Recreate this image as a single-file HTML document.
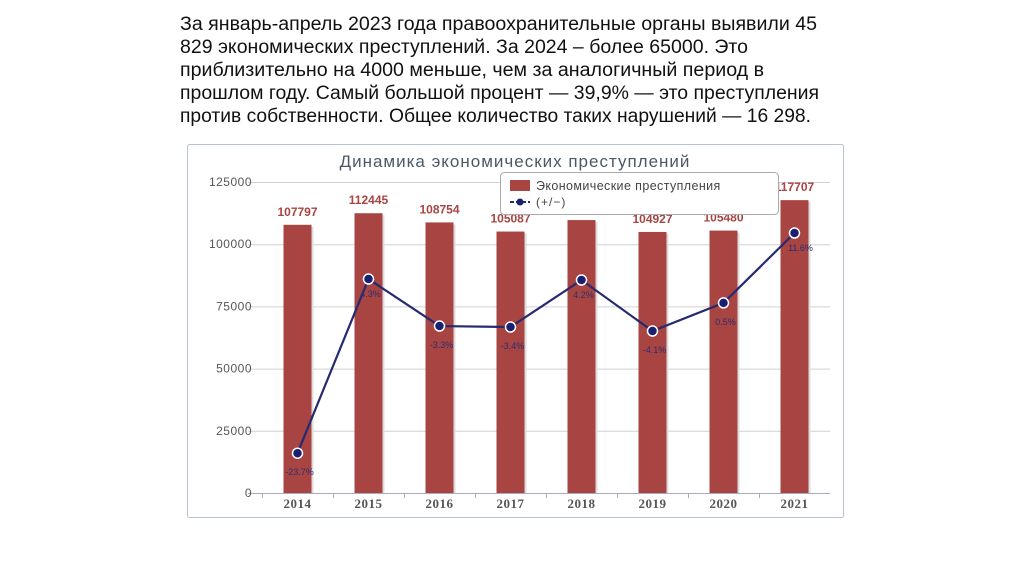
<!DOCTYPE html>
<html><head><meta charset="utf-8"><style>
body{margin:0;background:#fff;width:1024px;height:574px;overflow:hidden;font-family:"Liberation Sans","DejaVu Sans",sans-serif}
</style></head><body>
<svg id="svg" width="1024" height="574" style="position:absolute;left:0;top:0">
<g font-size="19" fill="#111" lengthAdjust="spacingAndGlyphs">
<text x="180" y="30" textLength="637" lengthAdjust="spacingAndGlyphs">За январь-апрель 2023 года правоохранительные органы выявили 45</text>
<text x="180" y="53" textLength="568" lengthAdjust="spacingAndGlyphs">829 экономических преступлений. За 2024 – более 65000. Это</text>
<text x="180" y="76" textLength="584" lengthAdjust="spacingAndGlyphs">приблизительно на 4000 меньше, чем за аналогичный период в</text>
<text x="180" y="99" textLength="639" lengthAdjust="spacingAndGlyphs">прошлом году. Самый большой процент — 39,9% — это преступления</text>
<text x="180" y="122" textLength="631" lengthAdjust="spacingAndGlyphs">против собственности. Общее количество таких нарушений — 16 298.</text>
</g>
<rect x="187.5" y="144.5" width="656" height="373" fill="#fff" stroke="#b8c4d4" rx="2"/>
<text x="515" y="167" text-anchor="middle" font-size="17" fill="#4c5866" letter-spacing="1">Динамика экономических преступлений</text>
<g id="plot"></g>
</svg>
<script>
const categories=["2014","2015","2016","2017","2018","2019","2020","2021"];
const crimes=[107797,112445,108754,105087,109700,104927,105480,117707];
const crimeLabels=["107797","112445","108754","105087","","104927","105480","117707"];
const changeVals=[16000,86000,67100,66700,85600,65100,76400,104500];
const changeLabels=["-23.7%","4.3%","-3.3%","-3.4%","4.2%","-4.1%","0.5%","11.6%"];
const yTicks=[0,25000,50000,75000,100000,125000];
const NS="http://www.w3.org/2000/svg";
const g=document.getElementById('plot');
const x0=262,x1=830,y0=493,y1=182,ymax=125000;
const bw=(x1-x0)/categories.length;
const X=i=>x0+bw*(i+0.5);
const Y=v=>y0-(v/ymax)*(y0-y1);
function mk(t,a,p){const e=document.createElementNS(NS,t);for(const k in a)e.setAttribute(k,a[k]);(p||g).appendChild(e);return e;}
yTicks.forEach(v=>{
 const l=mk('line',{x1:248,x2:830,y1:Y(v)+.5,y2:Y(v)+.5,stroke:v?'#d0d0d0':'#aab',"stroke-width":1});
 
 
 const t=mk('text',{x:252,y:Y(v)+4,"text-anchor":"end","font-size":12,fill:"#555","letter-spacing":"0.5"});t.textContent=v;
 
 
});
categories.forEach((c,i)=>{
 const tk=mk('line',{x1:x0+bw*i+.5,x2:x0+bw*i+.5,y1:y0,y2:y0+5,stroke:'#aab'});
 
 
 const sh=mk('rect',{x:X(i)-12,y:Y(crimes[i])+2,width:28,height:y0-Y(crimes[i])-2,fill:'#ddd'});
 
 
 const b=mk('rect',{x:X(i)-14,y:Y(crimes[i]),width:28,height:y0-Y(crimes[i]),fill:'#a84442'});
 
 
 if(crimeLabels[i]){const t=mk('text',{x:X(i),y:Y(crimes[i])-9,"text-anchor":"middle","font-size":12,"font-weight":"bold",fill:"#a84442"});t.textContent=crimeLabels[i];
 
 }
 const xl=mk('text',{x:X(i),y:y0+15,"text-anchor":"middle","font-size":13,"font-weight":"bold",fill:"#555","font-family":"Liberation Serif, serif","letter-spacing":"0.5"});xl.textContent=c;
 
 
});
const pts=changeVals.map((v,i)=>X(i)+','+Y(v)).join(' ');
const pl=mk('polyline',{points:pts,fill:'none',stroke:'#262a6e',"stroke-width":2.2});


changeVals.forEach((v,i)=>{
 const c=mk('circle',{cx:X(i),cy:Y(v),r:5,fill:'#1a1f6e',stroke:'#fff',"stroke-width":1.5});
 
 
 const t=mk('text',{x:X(i)+(i==7?6:2),y:Y(v)+(i==1||i==4?18:i==7?18:22),"text-anchor":"middle","font-size":9,fill:"#2a2f6e"});t.textContent=changeLabels[i];
 
 
});
// legend
const lg=mk('g',{});


mk('rect',{x:500.5,y:172.5,width:278,height:42,rx:4,fill:'#fff',stroke:'#aaa',"fill-opacity":0.95},lg);
const e1=mk('rect',{x:510,y:180,width:20,height:11,fill:'#a84442'},lg);


const t1=mk('text',{x:536,y:190,"font-size":12.5,fill:'#444',"letter-spacing":"0.4"},lg);t1.textContent='Экономические преступления';
mk('line',{x1:510,x2:530,y1:202,y2:202,stroke:'#262a6e',"stroke-width":2,"stroke-dasharray":"4 2"},lg);
const e2=mk('circle',{cx:520,cy:202,r:3.5,fill:'#1a1f6e'},lg);


const t2=mk('text',{x:536,y:206,"font-size":12,fill:'#444',"letter-spacing":"1"},lg);t2.textContent='(+/−)';
</script>
</body></html>
